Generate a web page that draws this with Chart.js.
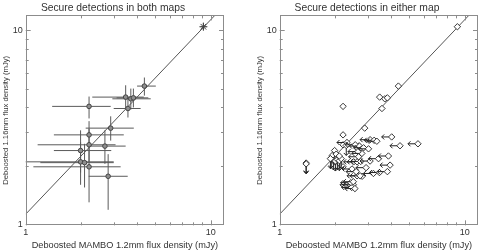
<!DOCTYPE html>
<html lang="en">
<head>
<meta charset="utf-8">
<title>Secure detections</title>
<script src="https://cdn.jsdelivr.net/npm/chart.js"></script>
<style>
  html, body { margin: 0; padding: 0; background: #fff; overflow: hidden; }
  #wrap { position: relative; width: 480px; height: 250px; }
  .box { position: absolute; top: 0; width: 240px; height: 250px; }
</style>
</head>
<body>
<div id="wrap">
  <div class="box" style="left:0"><canvas id="both" width="240" height="250"></canvas></div>
  <div class="box" style="left:254px"><canvas id="either" width="240" height="250"></canvas></div>
</div>
<script>
// axes (mJy, log)
var axisMin = 1, axisMax = 11.8, yAxisMin = 0.99, yAxisMax = 11.9;
var majorTicks = [1, 10];
var minorTicks = [2, 3, 4, 5, 6, 7, 8, 9];
var xTitle = 'Deboosted MAMBO 1.2mm flux density (mJy)';
var yTitle = 'Deboosted 1.16mm flux density (mJy)';

// reference line (1.16mm vs 1.2mm scaling)
var lineX = [1, 12];
var lineY = [1.13, 13.56];

// left panel: secure in both maps, with error bars ('*' = brightest source)
var bothX   = [4.38, 3.47, 3.70, 3.82, 3.57, 2.20, 2.88, 2.20, 2.20, 2.68, 1.98, 1.98, 2.08, 2.20, 2.79, 9.13];
var bothY   = [5.15, 4.52, 4.43, 4.48, 3.95, 4.05, 3.13, 2.89, 2.57, 2.53, 2.40, 2.10, 2.08, 1.98, 1.77, 10.4];
var bothXlo = [4.00, 2.29, 2.94, 3.10, 2.99, 1.39, 2.11, 1.42, 1.16, 2.25, 1.42, 0.90, 1.20, 1.10, 2.19, 8.80];
var bothXhi = [5.05, 4.35, 4.74, 4.60, 4.18, 2.88, 3.84, 3.39, 3.06, 3.47, 2.90, 2.99, 2.99, 3.26, 3.56, 9.50];
var bothYlo = [4.60, 3.95, 3.90, 4.00, 3.55, 3.51, 2.70, 2.45, 2.10, 2.05, 1.85, 1.60, 1.55, 1.30, 1.19, 10.0];
var bothYhi = [5.70, 5.20, 5.00, 5.00, 4.45, 4.55, 3.60, 3.40, 3.10, 3.05, 3.05, 2.65, 2.60, 2.45, 2.30, 10.9];
var bothMark = ['o', 'o', 'o', 'o', 'o', 'o', 'o', 'o', 'o', 'o', 'o', 'o', 'o', 'o', 'o', '*'];

// right panel: secure in either map ('x' = upper limit at 1.2mm, 'y' = upper limit at 1.16mm)
var eitherX = [9.13, 4.38, 3.47, 3.70, 3.82, 3.57, 2.20, 2.88, 2.20, 2.20, 2.68, 1.98, 1.98, 2.08, 2.20, 2.79,
               2.31, 2.56, 2.70, 2.84, 3.02, 2.78, 2.65, 2.67, 3.08, 3.24, 3.35, 4.03, 4.47, 5.59,
               3.08, 3.42, 3.87, 3.95, 2.93, 2.62, 2.72, 3.21, 3.46, 3.82, 2.51, 2.62, 2.74, 2.46, 2.59,
               2.40, 2.50, 2.45, 2.55, 2.42, 2.50,
               1.39, 1.39, 2.29, 1.90, 1.95, 2.00, 2.05, 2.10, 2.15, 1.92, 2.02, 2.10, 1.88];
var eitherY = [10.4, 5.15, 4.52, 4.43, 4.48, 3.95, 4.05, 3.13, 2.89, 2.57, 2.53, 2.40, 2.10, 2.08, 1.98, 1.77,
               2.64, 2.57, 2.53, 2.48, 2.45, 2.32, 2.37, 2.23, 2.73, 2.71, 2.68, 2.82, 2.54, 2.60,
               2.12, 2.18, 2.25, 2.02, 1.96, 1.78, 1.78, 1.83, 1.85, 1.87, 2.10, 2.10, 2.11, 1.93, 1.87,
               1.60, 1.60, 1.55, 1.53, 1.64, 1.66,
               2.07, 2.05, 2.55, 2.20, 2.15, 2.12, 2.16, 2.13, 2.18, 2.26, 2.30, 2.25, 2.18];
var eitherLimit = ['', '', '', '', '', '', '', '', '', '', '', '', '', '', '', '',
                   'x', 'x', 'x', 'x', 'x', 'x', 'x', 'x', 'x', 'x', 'x', 'x', 'x', 'x',
                   'x', 'x', 'x', 'x', 'x', 'x', 'x', 'x', 'x', 'x', 'x', 'x', 'x', 'x', 'x',
                   'x', 'x', 'x', 'x', 'x', 'x',
                   'y', 'y', 'y', 'y', 'y', 'y', 'y', 'y', 'y', '', '', '', 'y'];

var font = "'Liberation Sans', Arial, Helvetica, sans-serif";
var ink = '#333';

function pts(xs, ys) {
  return xs.map(function (x, i) { return { x: x, y: ys[i] }; });
}

// inward tick marks + full frame, like the original plot
var frameTicks = {
  id: 'frameTicks',
  afterDraw: function (chart) {
    var a = chart.chartArea, c = chart.ctx, sx = chart.scales.x, sy = chart.scales.y;
    c.save();
    c.strokeStyle = '#8c8c8c';
    c.lineWidth = 1;
    c.strokeRect(Math.round(a.left) + 0.5, Math.round(a.top) + 0.5,
                 Math.round(a.right - a.left) - 1, Math.round(a.bottom - a.top) - 1);
    c.beginPath();
    majorTicks.concat(minorTicks).forEach(function (v) {
      var len = majorTicks.indexOf(v) >= 0 ? 5 : 3;
      var px = Math.round(sx.getPixelForValue(v)) + 0.5;
      if (px > a.left && px < a.right) {
        c.moveTo(px, a.bottom); c.lineTo(px, a.bottom - len);
        c.moveTo(px, a.top); c.lineTo(px, a.top + len);
      }
      var py = Math.round(sy.getPixelForValue(v)) + 0.5;
      if (py > a.top && py < a.bottom) {
        c.moveTo(a.left, py); c.lineTo(a.left + len, py);
        c.moveTo(a.right, py); c.lineTo(a.right - len, py);
      }
    });
    c.stroke();
    c.restore();
  }
};

var errorBars = {
  id: 'errorBars',
  beforeDatasetsDraw: function (chart) {
    if (chart.canvas.id !== 'both') return;
    var a = chart.chartArea, c = chart.ctx, sx = chart.scales.x, sy = chart.scales.y;
    c.save();
    c.beginPath();
    c.rect(a.left, a.top, a.right - a.left, a.bottom - a.top);
    c.clip();
    c.strokeStyle = '#5a5a5a';
    c.lineWidth = 1;
    c.beginPath();
    bothX.forEach(function (x, i) {
      var px = sx.getPixelForValue(x), py = sy.getPixelForValue(bothY[i]);
      c.moveTo(sx.getPixelForValue(bothXlo[i]), py);
      c.lineTo(sx.getPixelForValue(bothXhi[i]), py);
      c.moveTo(px, sy.getPixelForValue(bothYlo[i]));
      c.lineTo(px, sy.getPixelForValue(bothYhi[i]));
    });
    c.stroke();
    c.restore();
  }
};

var limitArrows = {
  id: 'limitArrows',
  afterDatasetsDraw: function (chart) {
    if (chart.canvas.id !== 'either') return;
    var c = chart.ctx, sx = chart.scales.x, sy = chart.scales.y;
    c.save();
    c.strokeStyle = '#222';
    c.lineWidth = 1;
    c.beginPath();
    eitherX.forEach(function (x, i) {
      var px = sx.getPixelForValue(x), py = sy.getPixelForValue(eitherY[i]);
      if (eitherLimit[i] === 'x') {
        c.moveTo(px - 3, py); c.lineTo(px - 10, py);
        c.moveTo(px - 7.5, py - 2.5); c.lineTo(px - 10, py); c.lineTo(px - 7.5, py + 2.5);
      } else if (eitherLimit[i] === 'y') {
        c.moveTo(px, py + 3); c.lineTo(px, py + 10);
        c.moveTo(px - 2.5, py + 7.5); c.lineTo(px, py + 10); c.lineTo(px + 2.5, py + 7.5);
      }
    });
    c.stroke();
    c.restore();
  }
};

function makeOptions(title) {
  return {
    responsive: false,
    animation: false,
    events: [],
    layout: { padding: { left: 2, right: 16, top: 0, bottom: 0 } },
    plugins: {
      legend: { display: false },
      tooltip: { enabled: false },
      title: {
        display: true, text: title, color: ink,
        font: { family: font, size: 10.3, weight: 'normal', lineHeight: 1.2 },
        padding: { top: 2, bottom: 1 }
      }
    },
    scales: {
      x: {
        type: 'logarithmic', min: axisMin, max: axisMax,
        afterBuildTicks: function (s) { s.ticks = majorTicks.map(function (v) { return { value: v }; }); },
        grid: { display: false, drawTicks: false },
        border: { display: false },
        ticks: { color: ink, padding: 3, autoSkip: false, maxRotation: 0,
                 font: { family: font, size: 9, lineHeight: 1 },
                 callback: function (v) { return String(v); } },
        title: { display: true, text: xTitle, color: ink, padding: 0,
                 font: { family: font, size: 9.2, lineHeight: 1.05 } }
      },
      y: {
        type: 'logarithmic', min: yAxisMin, max: yAxisMax,
        afterBuildTicks: function (s) { s.ticks = majorTicks.map(function (v) { return { value: v }; }); },
        grid: { display: false, drawTicks: false },
        border: { display: false },
        ticks: { color: ink, padding: 3, autoSkip: false,
                 font: { family: font, size: 9, lineHeight: 1 },
                 callback: function (v) { return String(v); } },
        title: { display: true, text: yTitle, color: ink, padding: 0,
                 font: { family: font, size: 7.7, lineHeight: 1 } }
      }
    }
  };
}

var refLine = {
  type: 'line', data: pts(lineX, lineY), showLine: true,
  borderColor: '#555', borderWidth: 1, pointRadius: 0, order: 5
};

new Chart(document.getElementById('both'), {
  type: 'scatter',
  data: {
    datasets: [
      {
        data: pts(bothX, bothY), order: 1,
        pointStyle: function (ctx) { return bothMark[ctx.dataIndex] === '*' ? 'star' : 'circle'; },
        pointRadius: function (ctx) { return bothMark[ctx.dataIndex] === '*' ? 4 : 2.3; },
        backgroundColor: '#8e8e8e',
        borderColor: '#444',
        borderWidth: 1
      },
      Object.assign({}, refLine)
    ]
  },
  options: makeOptions('Secure detections in both maps'),
  plugins: [errorBars, frameTicks]
});

new Chart(document.getElementById('either'), {
  type: 'scatter',
  data: {
    datasets: [
      {
        data: pts(eitherX, eitherY), order: 1,
        pointStyle: 'rectRot', pointRadius: 3.2,
        backgroundColor: '#fff',
        borderColor: '#222',
        borderWidth: 0.9
      },
      Object.assign({}, refLine)
    ]
  },
  options: makeOptions('Secure detections in either map'),
  plugins: [limitArrows, frameTicks]
});
</script>
</body>
</html>
